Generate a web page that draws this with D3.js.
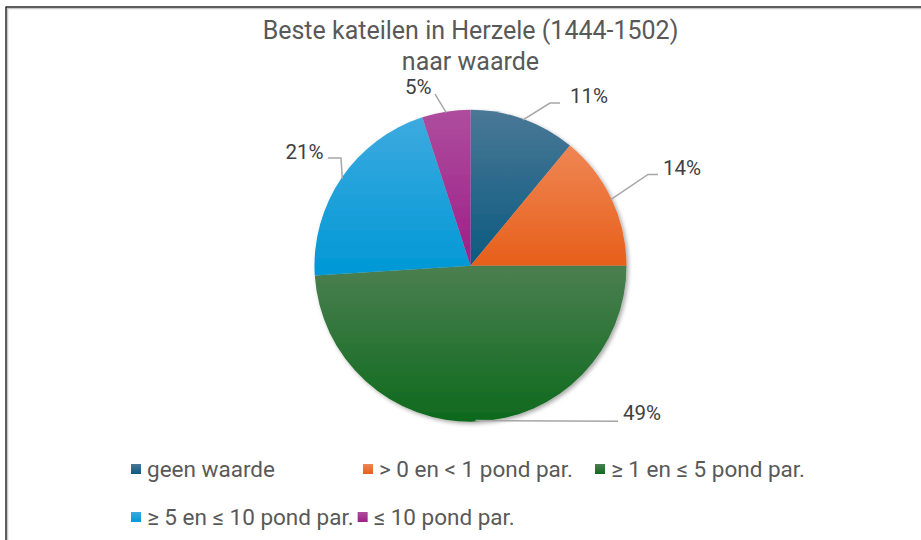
<!DOCTYPE html>
<html>
<head>
<meta charset="utf-8">
<script src="https://cdn.jsdelivr.net/npm/d3@7"></script>
<style>
  html, body { margin: 0; padding: 0; background: #fff; }
  svg { display: block; font-family: Roboto, "Noto Sans", sans-serif; }
</style>
</head>
<body>
<div id="chart"></div>
<script>
// data
const categories = ['geen waarde', '> 0 en < 1 pond par.', '≥ 1 en ≤ 5 pond par.', '≥ 5 en ≤ 10 pond par.', '≤ 10 pond par.'];
const shares = [11, 14, 49, 21, 5];
const titleLines = ['Beste kateilen in Herzele (1444-1502)', 'naar waarde'];

// slice colours: [top, bottom] of each gradient
const colors = [['#4a7896', '#0b5a80'], ['#ef8654', '#e75f1a'], ['#4b7f50', '#0e6a1d'], ['#3daadf', '#0098d6'], ['#ae4d9e', '#9d1e88']];

// hand placed label layout, relative to pie centre: elbow point, tail end, text anchor
const labelLayout = [
  {elbow: [79.5, -162.7], tail: [89.5, -162.7], text: [99.5, -162.7], anchor: 'start'},
  {elbow: [177.5, -91.2], tail: [187.5, -91.2], text: [192.5, -91.2], anchor: 'start'},
  {elbow: null, tail: [147.5, 155.5], text: [152.5, 154.5], anchor: 'start'},
  {elbow: [-129.5, -107.7], tail: [-142.5, -107.7], text: [-147, -107.2], anchor: 'end'},
  {elbow: null, tail: [-35.5, -171.5], text: [-39, -172], anchor: 'end'}
];

const width = 921;
const height = 540;
const cx = 470.5;
const cy = 265.7;
const radius = 156;

const svg = d3.select('#chart')
              .append('svg')
              .attr('width', width)
              .attr('height', height);

const defs = svg.append('defs');

colors.forEach((c, i) => {
  const g = defs.append('linearGradient')
                .attr('id', 'grad' + i)
                .attr('x1', 0).attr('y1', 0)
                .attr('x2', 0).attr('y2', 1);
  g.append('stop').attr('offset', '0%').attr('stop-color', c[0]);
  g.append('stop').attr('offset', '100%').attr('stop-color', c[1]);
});

const shadow = defs.append('filter')
                   .attr('id', 'shadow')
                   .attr('x', '-10%').attr('y', '-10%')
                   .attr('width', '120%').attr('height', '120%');
shadow.append('feDropShadow')
      .attr('dx', 2)
      .attr('dy', 2)
      .attr('stdDeviation', 2)
      .attr('flood-color', '#000')
      .attr('flood-opacity', 0.35);

//frame
svg.append('line')
   .attr('x1', 7).attr('y1', 8.5).attr('x2', width).attr('y2', 8.5)
   .attr('stroke', '#c8c8c8').attr('stroke-width', 1.5);
svg.append('line')
   .attr('x1', 7.5).attr('y1', 8).attr('x2', 7.5).attr('y2', height)
   .attr('stroke', '#c8c8c8').attr('stroke-width', 1.5);
svg.append('line')
   .attr('x1', 6).attr('y1', 7).attr('x2', width).attr('y2', 7)
   .attr('stroke', '#2a2a2a').attr('stroke-width', 1.5);
svg.append('line')
   .attr('x1', 6).attr('y1', 6.5).attr('x2', 6).attr('y2', height)
   .attr('stroke', '#2a2a2a').attr('stroke-width', 1.5);

//title
svg.selectAll('text.title')
   .data(titleLines)
   .enter()
   .append('text')
   .attr('class', 'title')
   .text(d => d)
   .attr('x', cx)
   .attr('y', (d, i) => 39 + i * 31)
   .attr('text-anchor', 'middle')
   .attr('font-size', 25)
   .attr('fill', '#595959');

//pie
const pie = d3.pie().sort(null).value(d => d);
const arcs = pie(shares);
const arc = d3.arc().innerRadius(0).outerRadius(radius);

const pieG = svg.append('g')
                .attr('transform', 'translate(' + cx + ',' + cy + ')');

pieG.append('g')
    .attr('filter', 'url(#shadow)')
    .selectAll('path')
    .data(arcs)
    .enter()
    .append('path')
    .attr('d', arc)
    .attr('fill', (d, i) => 'url(#grad' + i + ')');

//leader lines
const edgePoint = d => {
  const a = (d.startAngle + d.endAngle) / 2;
  return [Math.sin(a) * (radius - 1), -Math.cos(a) * (radius - 1)];
};

pieG.selectAll('polyline')
    .data(arcs)
    .enter()
    .append('polyline')
    .attr('points', (d, i) => {
      const l = labelLayout[i];
      const pts = [edgePoint(d)];
      if (l.elbow) pts.push(l.elbow);
      pts.push(l.tail);
      return pts.map(p => p.join(',')).join(' ');
    })
    .attr('fill', 'none')
    .attr('stroke', '#a6a6a6')
    .attr('stroke-width', 1.5);

pieG.selectAll('text.pct')
    .data(arcs)
    .enter()
    .append('text')
    .attr('class', 'pct')
    .text(d => Math.round(d.data / d3.sum(shares) * 100) + '%')
    .attr('x', (d, i) => labelLayout[i].text[0])
    .attr('y', (d, i) => labelLayout[i].text[1])
    .attr('text-anchor', (d, i) => labelLayout[i].anchor)
    .attr('font-size', 20.5)
    .attr('fill', '#404040');

//legend
const legend = svg.append('g');
const colWidth = 232;
const rowY = [469, 517];
const items = legend.selectAll('g')
                    .data(categories)
                    .enter()
                    .append('g');

items.append('rect')
     .attr('width', 10)
     .attr('height', 10)
     .attr('y', -5)
     .attr('fill', (d, i) => 'url(#grad' + i + ')');

items.append('text')
     .text(d => d)
     .attr('x', 16)
     .attr('y', 7.5)
     .attr('font-size', 22.5)
     .attr('fill', '#595959');

// first row in equal columns, second row flows after the text
let x2 = 131;
items.each(function(d, i) {
  const g = d3.select(this);
  if (i < 3) {
    g.attr('transform', 'translate(' + (131 + i * colWidth) + ',' + rowY[0] + ')');
  } else {
    g.attr('transform', 'translate(' + x2 + ',' + rowY[1] + ')');
    x2 += 16 + g.select('text').node().getComputedTextLength() + 4;
  }
});
</script>
</body>
</html>
